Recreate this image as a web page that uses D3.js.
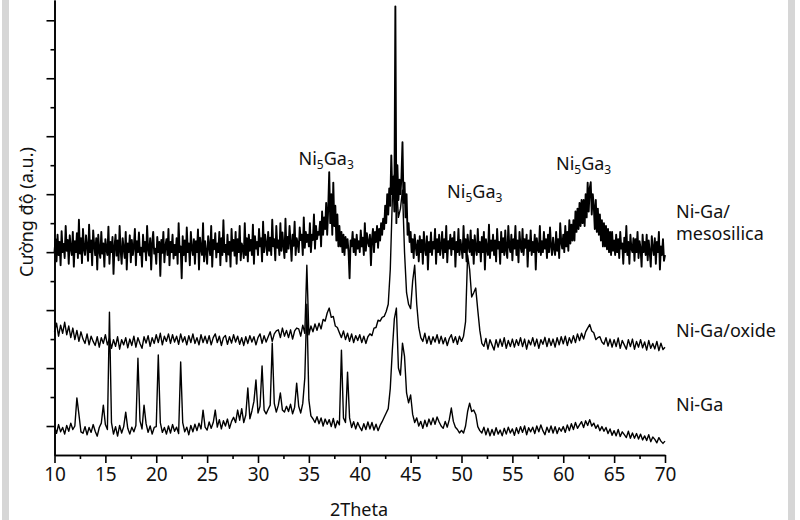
<!DOCTYPE html>
<html>
<head>
<meta charset="utf-8">
<script src="https://cdn.jsdelivr.net/npm/d3@7"></script>
<style>
  body { margin: 0; background: #fff; }
  svg { display: block; font-family: "Noto Sans", "Open Sans", sans-serif; }
</style>
</head>
<body>
<div id="chart"></div>
<script>
var svgWidth = 800;
var svgHeight = 520;

// x axis: 2Theta, sampled on a regular grid
var xStart = 10;
var xTicks = [10, 15, 20, 25, 30, 35, 40, 45, 50, 55, 60, 65, 70];
var xMinorTicks = [12.5, 17.5, 22.5, 27.5, 32.5, 37.5, 42.5, 47.5, 52.5, 57.5, 62.5, 67.5];
// y axis has no labels, only ticks (arbitrary intensity units)
var yMajorTicks = [100, 300, 500, 700, 900, 1100, 1300, 1500];
var yMinorTicks = [200, 400, 600, 800, 1000, 1200, 1400];

// Ni-Ga/mesosilica, step 0.1 deg (already offset as plotted)
var mesoStep = 0.1;
var mesoValues = [
  700,745,668,760,690,735,655,772,700,728,
  680,790,705,742,660,758,712,690,770,650,
  738,700,765,680,812,695,748,662,780,710,
  690,758,720,670,795,700,740,655,775,725,
  690,748,640,760,705,680,770,695,730,650,
  745,710,690,788,660,735,700,752,625,720,
  760,688,740,672,790,705,660,748,712,680,
  770,640,730,700,758,665,742,690,720,780,
  655,738,700,768,690,715,650,760,702,735,
  672,790,710,688,748,640,730,770,695,712,
  660,752,700,735,618,742,698,770,665,720,
  745,690,780,655,735,700,760,678,725,690,
  748,660,800,700,720,610,755,690,740,668,
  785,700,730,655,770,712,690,745,660,738,
  700,778,640,750,712,690,800,668,738,700,
  660,755,720,690,790,650,742,710,765,682,
  730,700,770,655,748,690,810,700,725,668,
  760,692,735,650,780,705,742,688,770,660,
  745,700,790,672,730,715,680,800,690,748,
  668,760,705,742,690,795,660,755,712,735,
  690,780,720,748,668,805,700,760,728,690,
  770,705,750,690,812,720,745,672,790,715,
  740,690,800,705,768,722,680,815,700,752,
  712,790,735,670,760,722,805,690,748,730,
  700,785,742,760,690,820,715,770,735,760,
  720,800,700,760,742,830,712,790,745,770,
  760,805,720,840,760,820,780,870,760,850,
  976,800,900,760,940,790,860,740,830,720,
  790,720,770,700,760,690,752,715,745,700,
  610,740,720,770,700,745,690,760,712,738,
  700,775,720,750,690,800,705,765,735,720,
  760,655,745,780,700,770,735,790,715,780,
  740,800,760,815,780,860,800,900,830,920,
  860,1034,900,960,840,1548,800,1000,880,950,
  900,960,1079,870,940,820,900,760,800,735,
  770,700,745,680,760,720,690,740,668,755,
  700,742,660,770,712,690,755,640,735,700,
  768,690,735,712,780,660,745,700,760,690,
  720,770,680,745,700,790,665,738,712,760,
  690,748,710,770,650,735,700,780,690,742,
  715,680,790,700,745,668,760,720,700,775,
  690,742,660,758,712,690,780,700,735,668,
  752,700,770,640,745,712,690,795,680,740,
  705,760,690,740,668,780,712,735,660,770,
  700,748,690,775,705,680,790,720,700,760,
  672,745,712,790,690,740,665,770,720,700,
  780,690,745,715,760,650,740,705,775,690,
  735,700,760,640,748,712,700,790,690,738,
  700,770,712,745,680,760,700,785,720,690,
  750,712,690,770,705,745,680,800,735,712,
  760,700,790,720,770,705,810,730,795,740,
  810,740,840,770,850,780,870,790,880,800,
  880,790,900,820,940,840,920,941,830,900,
  860,780,880,770,850,760,830,740,810,720,
  800,720,790,710,780,700,770,690,770,705,
  740,690,760,700,745,680,770,712,730,660,
  750,700,790,690,735,660,760,712,700,748,
  670,745,700,770,680,738,712,650,760,700,
  735,690,760,672,740,700,650,755,715,690,
  748,660,735,700,770,640,720,690,745,670,
  690
];

// Ni-Ga/oxide, step 0.2 deg
var oxideStep = 0.2;
var oxideValues = [
  425,455,410,448,420, 458,415,445,405,438, 398,430,392,425,400, 385,418,380,410,392,
  378,408,372,405,385, 415,380,402,368,398, 375,408,365,398,380, 405,370,400,378,410,
  372,405,385,368,408, 386,412,375,405,385, 415,388,420,380,410, 392,418,385,415,390,
  410,382,418,390,408, 380,412,388,418,385, 405,380,415,388,410, 385,412,380,405,418,
  388,410,378,405,412, 382,408,386,415,390, 410,382,405,378,408, 385,412,390,408,380,
  405,418,385,412,390, 408,425,392,418,428, 432,405,438,410,430, 405,432,400,428,438,
  435,410,448,420,655, 415,445,425,452,430, 455,435,468,462,490, 507,475,478,445,440,
  422,405,428,398,420, 392,418,388,412,395, 415,388,410,385,408, 418,412,438,440,465,
  462,475,478,495,520, 640,880,966,940,820, 850,914,700,560,520, 505,600,655,520,440,
  405,392,420,385,410, 382,408,390,415,385, 410,384,405,378,402, 415,388,408,382,410,
  392,410,460,690,640, 545,560,576,500,430, 385,375,402,365,398, 380,362,398,372,400,
  375,405,368,395,374, 400,372,398,378,405, 374,400,365,396,380, 405,376,400,368,398,
  382,406,374,402,378, 400,372,405,380,408, 384,410,378,405,386, 412,388,418,395,420,
  400,425,438,450,428, 422,398,405,408,390, 382,405,376,400,372, 398,374,404,368,395,
  380,365,398,374,400, 365,392,372,398,370, 390,362,395,368,385, 366,392,360,386,364,
  372
];

// Ni-Ga, step 0.2 deg
var nigaStep = 0.2;
var nigaValues = [
  98,75,105,80,95, 72,102,82,110,88, 100,197,140,80,75, 98,70,95,78,105,
  82,65,95,110,172, 105,88,493,112,72, 98,65,102,76,98, 148,92,72,96,80,
  102,334,118,90,172, 108,78,100,72,95, 98,345,112,78,95, 72,100,76,105,82,
  96,74,321,112,80, 96,70,102,80,106, 84,110,90,155,96, 86,114,92,112,155,
  96,122,90,118,100, 124,92,116,130,112, 155,120,160,112,138, 231,125,152,185,259,
  145,168,307,155,142, 158,172,386,178,148, 172,214,155,148,168, 150,175,142,165,248,
  168,145,178,266,520, 190,135,125,112,132, 108,128,100,124,106, 122,98,126,94,118,
  104,362,128,112,286, 128,95,115,90,112, 96,84,108,88,114, 90,112,86,106,84,
  102,115,130,145,160, 230,360,470,507,300, 276,386,340,214,180, 207,140,112,128,100,
  116,92,120,98,124, 104,128,106,131,114, 100,92,116,96,122, 162,116,96,88,76,
  85,76,100,150,179, 150,155,140,98,84, 76,96,70,92,66, 88,68,94,72,86,
  66,92,72,96,76, 90,68,94,74,98, 78,100,70,94,80, 96,74,100,80,104,
  84,70,96,78,100, 76,98,74,94,82, 98,78,104,84,108, 88,112,92,104,115,
  95,118,102,122,100, 110,92,104,84,98, 82,95,74,90,68, 84,66,88,64,80,
  70,60,82,58,76, 58,74,55,72,52, 66,50,70,46,62, 54,42,60,48,40,
  48
];

var seriesNames = ["Ni-Ga/mesosilica", "Ni-Ga/oxide", "Ni-Ga"];
var peakLabels = [36.7, 51.3, 62.0];

function toPoints(values, step) {
  return values.map(function (v, i) { return [xStart + i * step, v]; });
}

var svg = d3.select("#chart")
  .append("svg")
  .attr("width", svgWidth)
  .attr("height", svgHeight);

// light grey page edges
svg.append("rect").attr("x", 2).attr("y", 0).attr("width", 7).attr("height", svgHeight).attr("fill", "#d6d6d6");
svg.append("rect").attr("x", 788).attr("y", 0).attr("width", 7).attr("height", svgHeight).attr("fill", "#d6d6d6");

var xScale = d3.scaleLinear().domain([10, 70]).range([54.5, 665]);
var yScale = d3.scaleLinear().domain([0, 1570]).range([455, 0]);

var line = d3.line()
  .x(function (d) { return xScale(d[0]); })
  .y(function (d) { return yScale(d[1]); });

var traces = [
  { pts: toPoints(mesoValues, mesoStep), w: 1.9 },
  { pts: toPoints(oxideValues, oxideStep), w: 1.4 },
  { pts: toPoints(nigaValues, nigaStep), w: 1.4 }
];

svg.append("g").selectAll("path")
  .data(traces)
  .enter()
  .append("path")
  .attr("d", function (d) { return line(d.pts); })
  .attr("fill", "none")
  .attr("stroke", "#000")
  .attr("stroke-width", function (d) { return d.w; })
  .attr("stroke-linejoin", "round");

// axes
var bottomAxis = d3.axisBottom(xScale).tickValues(xTicks).tickSize(8).tickSizeOuter(0).tickPadding(5);
var bottomMinor = d3.axisBottom(xScale).tickValues(xMinorTicks).tickSize(4).tickSizeOuter(0).tickFormat("");
var leftAxis = d3.axisLeft(yScale).tickValues(yMajorTicks).tickSize(8).tickSizeOuter(0).tickFormat("");
var leftMinor = d3.axisLeft(yScale).tickValues(yMinorTicks).tickSize(4).tickSizeOuter(0).tickFormat("");

var gx = svg.append("g").attr("transform", "translate(0,455)").call(bottomAxis);
svg.append("g").attr("transform", "translate(0,455)").call(bottomMinor);
svg.append("g").attr("transform", "translate(54.5,0)").call(leftAxis);
svg.append("g").attr("transform", "translate(54.5,0)").call(leftMinor);

svg.selectAll(".domain, .tick line").attr("stroke", "#000").attr("stroke-width", 1.6);
gx.selectAll("text").attr("font-size", 19).attr("fill", "#111").style("font-family", "Noto Sans");

// axis titles
svg.append("text")
  .attr("x", 359).attr("y", 516)
  .attr("text-anchor", "middle")
  .attr("font-size", 18)
  .attr("fill", "#111")
  .text("2Theta");

svg.append("text")
  .attr("transform", "rotate(-90)")
  .attr("x", -212).attr("y", 33)
  .attr("text-anchor", "middle")
  .attr("font-size", 18)
  .attr("fill", "#111")
  .text("Cường độ (a.u.)");

// series labels
var sl = svg.append("g").attr("font-size", 18).attr("fill", "#111");
sl.append("text").attr("x", 676).attr("y", 218).text("Ni-Ga/");
sl.append("text").attr("x", 676).attr("y", 240).text("mesosilica");
sl.append("text").attr("x", 676).attr("y", 337).text(seriesNames[1]);
sl.append("text").attr("x", 676).attr("y", 411).text(seriesNames[2]);

// Ni5Ga3 phase labels
var labelY = [165, 198, 170];
peakLabels.forEach(function (p, i) {
  var t = svg.append("text")
    .attr("x", xScale(p)).attr("y", labelY[i])
    .attr("text-anchor", "middle")
    .attr("font-size", 18)
    .attr("fill", "#111");
  t.append("tspan").text("Ni");
  t.append("tspan").attr("font-size", 12).attr("dy", 4).text("5");
  t.append("tspan").attr("dy", -4).text("Ga");
  t.append("tspan").attr("font-size", 12).attr("dy", 4).text("3");
});
</script>
</body>
</html>
